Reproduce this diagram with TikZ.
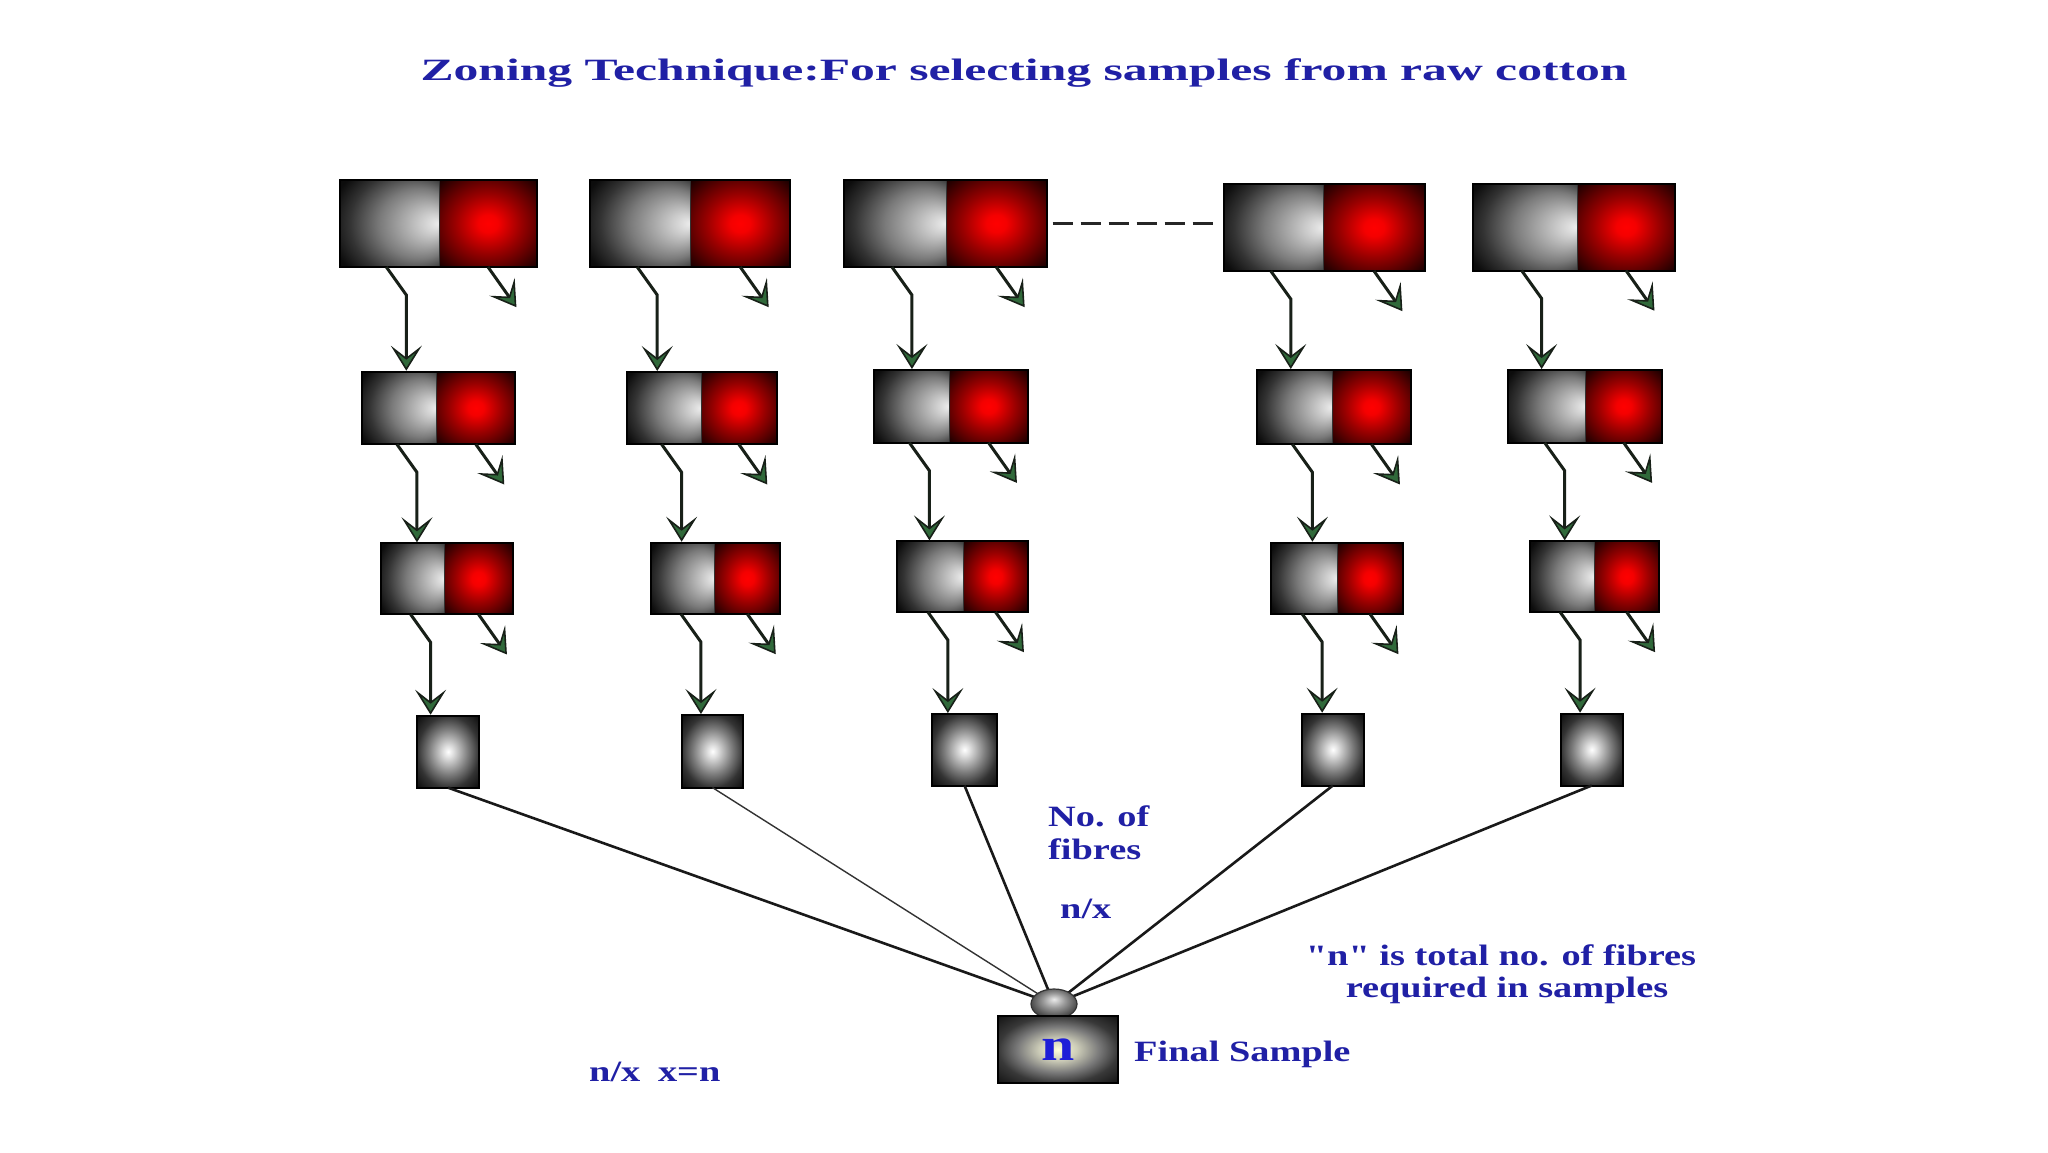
\documentclass[tikz,border=0pt]{standalone}
\usepackage{fontspec}
\setmainfont{Liberation Serif}
\newfontfamily\titlefont{Liberation Serif}[FakeStretch=1.6]
\newfontfamily\bodyfont{Liberation Serif}[FakeStretch=1.3]
\usetikzlibrary{arrows.meta,calc,fit}
\definecolor{txtblue}{RGB}{32,32,165}
\definecolor{nblue}{RGB}{30,30,215}
\definecolor{arrowline}{RGB}{24,32,24}
\definecolor{arrowgreen}{RGB}{48,105,58}
\pgfdeclareradialshading{grayzone}{\pgfpoint{25bp}{0bp}}{color(0bp)=(white!93!black); color(6bp)=(white!80!black); color(20bp)=(black!52); color(30bp)=(black!80); color(37bp)=(black!95); color(50bp)=(black)}
\pgfdeclareradialshading{redzone}{\pgfpointorigin}{color(0bp)=(red); color(5bp)=(red!96!black); color(17bp)=(red!60!black); color(25bp)=(red!38!black); color(35bp)=(red!10!black); color(50bp)=(black)}
\pgfdeclareradialshading{smallzone}{\pgfpointorigin}{color(0bp)=(white); color(4bp)=(white!88!black); color(16bp)=(black!52); color(25bp)=(black!80); color(35bp)=(black!95); color(50bp)=(black)}
\pgfdeclareradialshading{finalzone}{\pgfpointorigin}{color(0bp)=(yellow!15!white); color(8bp)=(yellow!10!white!80!black); color(17bp)=(black!52); color(25bp)=(black!78); color(35bp)=(black!92); color(50bp)=(black)}
\pgfdeclareradialshading{bumpzone}{\pgfpoint{0bp}{8bp}}{color(0bp)=(white!92!black); color(12bp)=(black!40); color(25bp)=(black!70); color(50bp)=(black!88)}
\tikzset{
  graypart/.style={shade, shading=grayzone, inner sep=0pt, outer sep=0pt},
  redpart/.style={shade, shading=redzone, inner sep=0pt, outer sep=0pt},
  boxline/.style={draw=black, line width=2pt},
  splitline/.style={draw=black!80, line width=0.7pt},
  smallbox/.style={shade, shading=smallzone, draw=black, line width=2pt, inner sep=0pt, outer sep=0pt},
  finalbox/.style={shade, shading=finalzone, draw=black, line width=2.2pt, inner sep=0pt, outer sep=0pt},
  arr/.style={draw=arrowline, line width=3pt, line join=miter, shorten >=1pt,
    -{Stealth[length=25pt, width=31pt, inset=12pt, color=arrowline, fill=arrowgreen, line width=1.6pt]}},
  fanline/.style={draw=black!90, line width=2.6pt},
  thinfan/.style={draw=black!80, line width=1.4pt},
  titletext/.style={text=txtblue, font=\titlefont\bfseries\fontsize{31}{36}\selectfont, inner sep=0pt},
  bodytext/.style={text=txtblue, font=\bodyfont\bfseries\fontsize{29.5}{33}\selectfont, inner sep=0pt},
  dashline/.style={draw=black!85, line width=2.2pt, dash pattern=on 20pt off 8pt}
}
% name, x1, y1, xsplit, x2, y2
\newcommand{\zonebox}[6]{%
  \node[graypart, fit={(#2,#3) (#4,#6)}] (g#1) {};
  \node[redpart, fit={(#4,#3) (#5,#6)}] (r#1) {};
  \draw[splitline] (g#1.north east) -- (g#1.south east);
  \draw[boxline] (g#1.north west) rectangle (r#1.south east);
}
\begin{document}
\begin{tikzpicture}[x=1pt,y=-1pt]
\useasboundingbox (0,0) rectangle (2048,1152);
\fill[white] (0,0) rectangle (2048,1152);

% title
\node[titletext, anchor=base] (title) at (1024,80) {Zoning Technique:For selecting samples from raw cotton};

% row 1
\zonebox{t1}{339.6}{180}{439}{537}{267}
\zonebox{t2}{590}{180}{690.5}{790}{267}
\zonebox{t3}{844}{180}{946}{1046.5}{267}
\zonebox{t4}{1224}{184}{1323.5}{1424.5}{271}
\zonebox{t5}{1472.5}{183.5}{1577}{1675}{270.5}
% row 2
\zonebox{m1}{361.7}{371.7}{436.7}{515}{444.3}
\zonebox{m2}{626.7}{372}{701}{776.7}{444.3}
\zonebox{m3}{874.3}{370}{949}{1028}{442.7}
\zonebox{m4}{1257.3}{370}{1332}{1411}{444.3}
\zonebox{m5}{1508.3}{370}{1585.7}{1661.7}{442.7}
% row 3
\zonebox{n1}{380.7}{543.3}{444.3}{512.7}{614.3}
\zonebox{n2}{651}{542.7}{714.7}{780}{614}
\zonebox{n3}{896.7}{541.4}{963}{1028}{612}
\zonebox{n4}{1271}{542.7}{1337.3}{1402.7}{614}
\zonebox{n5}{1530}{541.4}{1594}{1659.3}{612}
% row 4
\node[smallbox, fit={(417.3,715.7) (479,787.7)}] (s1) {};
\node[smallbox, fit={(681.7,715) (743.3,787.6)}] (s2) {};
\node[smallbox, fit={(932.3,714) (996.7,785.5)}] (s3) {};
\node[smallbox, fit={(1301.7,713.7) (1364,785.5)}] (s4) {};
\node[smallbox, fit={(1560.7,713.7) (1622.7,785.5)}] (s5) {};

% dashed link between column 3 and column 4
\draw[dashline] ([xshift=6pt]rt3.east) -- ([xshift=-10pt]rt3.east -| gt4.west);

% arrows
\foreach \a/\b in {t1/gm1, t2/gm2, t3/gm3, t4/gm4, t5/gm5,
                   m1/gn1, m2/gn2, m3/gn3, m4/gn4, m5/gn5,
                   n1/s1, n2/s2, n3/s3, n4/s4, n5/s5}{
  \draw[arr] ($(g\a.south west)!0.47!(g\a.south east)$) -- ++(20,28) coordinate (k\a) -- (k\a |- \b.north);
  \draw[arr] (r\a.south) -- ++(29,41) coordinate (e\a);
}

% fan lines to final sample
\coordinate (bc) at (1054,1004);
\draw[fanline] (s1.south) -- (bc);
\draw[thinfan] (s2.south) -- (bc);
\draw[fanline] (s3.south) -- (bc);
\draw[fanline] (s4.south) -- (bc);
\draw[fanline] (s5.south) -- (bc);
\path[shade, shading=bumpzone, draw=black!80, line width=1.2pt] (bc) ellipse [x radius=23, y radius=15];

% final sample box
\node[finalbox, fit={(998,1016) (1118,1083)}] (final) {};
\node[text=nblue, font=\bodyfont\bfseries\fontsize{46}{48}\selectfont, inner sep=0pt] (nmark) at (final.center) {n};

% labels
\node[bodytext, anchor=base west] (lblno) at (1048,826.7) {No. of};
\node[bodytext, anchor=base west] (lblfib) at (1048,859) {fibres};
\node[bodytext, anchor=base west] (lblnx) at (1060,918) {n/x};
\node[bodytext, anchor=base] (lbltot) at (1501,965) {"n" is total no. of fibres};
\node[bodytext, anchor=base] (lblreq) at (1507,997) {required in samples};
\node[bodytext, anchor=base west] (lblfinal) at (1134,1061) {Final Sample};
\node[bodytext, anchor=base west] (lblnxx) at (589,1081.7) {n/x\hspace{0.6em}x=n};
\end{tikzpicture}
\end{document}
